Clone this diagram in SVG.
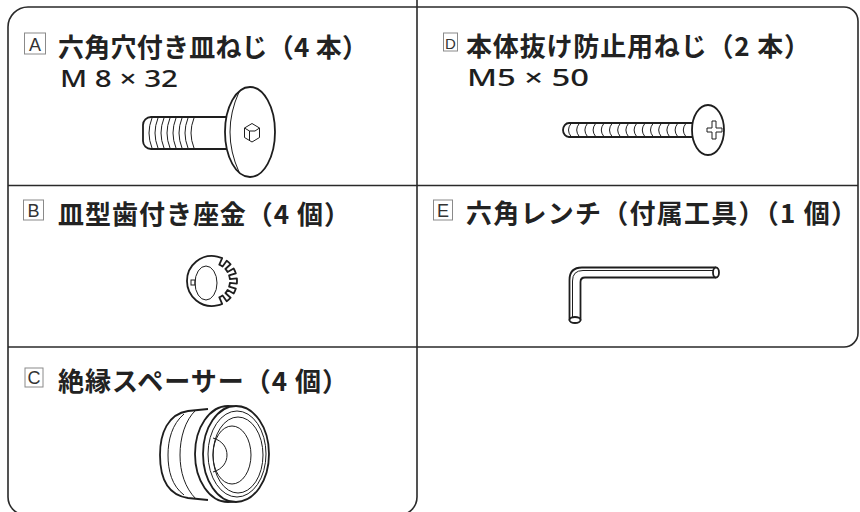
<svg xmlns="http://www.w3.org/2000/svg" width="860" height="512" viewBox="0 0 860 512">
<style>
.frame{fill:none;stroke:#2a2a2a;stroke-width:1.6}
.lbl{fill:#fff;stroke:#8a8a8a;stroke-width:1}
.lt{font-family:"Liberation Sans","Noto Sans",sans-serif;font-size:18px;fill:#333;text-anchor:middle}
.title{font-family:"Noto Sans CJK JP","Noto Sans",sans-serif;font-size:26px;font-weight:600;fill:#222}
.spec{font-family:"Noto Sans","Liberation Sans",sans-serif;font-size:24px;font-weight:500;fill:#1e1e1e}
.thick{fill:#fff;stroke:#1e1e1e;stroke-width:1.8;stroke-linejoin:round}
.thin{fill:none;stroke:#1e1e1e;stroke-width:1}
</style>
<rect width="860" height="512" fill="#fff"/>
<g id="frame">
<path class="frame" d="M8,27 A20,20 0 0 1 28,7 L844,7 A14,14 0 0 1 858,21 L858,333 A14,14 0 0 1 844,347 L417,347"/>
<path class="frame" d="M417,0 L417,497 A18,18 0 0 1 399,515 L26,515 A18,18 0 0 1 8,497 L8,27"/>
<line class="frame" x1="8" y1="185.5" x2="858" y2="185.5"/>
<line class="frame" x1="8" y1="347" x2="417" y2="347"/>
</g>
<g id="connectors"></g>
<g id="node-A">
<rect class="lbl" x="24.5" y="33" width="21" height="21"/>
<text class="lt" x="35" y="50.5">A</text>
<text class="title" x="58" y="57" textLength="310">六角穴付き皿ねじ（4 本）</text>
<text class="spec" x="60" y="87" textLength="118" lengthAdjust="spacingAndGlyphs">M 8 × 32</text>
<path class="thick" d="M228,117 L151,117 A8,8 0 0 0 143,125 L143,141 A8,8 0 0 0 151,149 L228,149"/>
<path class="thin" d="M152,118 Q146,133 152,148 M158,118 Q152,133 158,148 M164,118 Q158,133 164,148 M170,118 Q164,133 170,148 M176,118 Q170,133 176,148 M182,118 Q176,133 182,148 M188,118 Q182,133 188,148 M194,118 Q188,133 194,148"/>
<ellipse class="thick" cx="250" cy="132" rx="25" ry="45"/>
<path class="thin" d="M239,92 Q221,132 239,172"/>
<polygon class="thin" points="252,123.5 259.5,128 259.5,137.5 252,142 244.5,137.5 244.5,128"/>
<polyline class="thin" points="244.5,128 249.5,131 249.5,140"/>
<polyline class="thin" points="249.5,131 255,131 259.5,128"/>
</g>
<g id="node-D">
<rect class="lbl" x="443.5" y="33" width="14" height="18"/>
<text class="lt" x="450.5" y="48.5" style="font-size:15px">D</text>
<text class="title" x="466" y="56" textLength="344">本体抜け防止用ねじ（2 本）</text>
<text class="spec" x="467" y="86" textLength="122" lengthAdjust="spacingAndGlyphs">M5 × 50</text>
<path class="thick" d="M696,123 L569,123 A6,7 0 0 0 569,137 L696,137"/>
<path class="thin" d="M571,123.5 Q566,130 571,136.5 M579.2,123.5 Q574.2,130 579.2,136.5 M587.4,123.5 Q582.4,130 587.4,136.5 M595.6,123.5 Q590.6,130 595.6,136.5 M603.8,123.5 Q598.8,130 603.8,136.5 M612,123.5 Q607,130 612,136.5 M620.2,123.5 Q615.2,130 620.2,136.5 M628.4,123.5 Q623.4,130 628.4,136.5 M636.6,123.5 Q631.6,130 636.6,136.5 M644.8,123.5 Q639.8,130 644.8,136.5 M653,123.5 Q648,130 653,136.5 M661.2,123.5 Q656.2,130 661.2,136.5 M669.4,123.5 Q664.4,130 669.4,136.5 M677.6,123.5 Q672.6,130 677.6,136.5 M685.8,123.5 Q680.8,130 685.8,136.5"/>
<ellipse class="thick" cx="708" cy="130" rx="16" ry="25"/>
<path class="thin" d="M712,121 L716,121 L716,128 L722,128 L722,132 L716,132 L716,139 L712,139 L712,132 L707,132 L707,128 L712,128 Z"/>
</g>
<g id="node-B">
<rect class="lbl" x="23.5" y="200" width="20" height="20"/>
<text class="lt" x="33.5" y="216.5">B</text>
<text class="title" x="58" y="224" textLength="292">皿型歯付き座金（4 個）</text>
<path class="thick" d="M217.2,256.55 A25,25 0 0 1 222.17,258.16 L219.32,264.56 A18,18 0 0 1 222.58,266.44 L226.7,260.78 A25,25 0 0 1 230.58,264.27 L225.38,268.96 A18,18 0 0 1 227.59,272 L233.65,268.5 A25,25 0 0 1 235.78,273.28 L229.12,275.44 A18,18 0 0 1 229.9,279.12 L236.86,278.39 A25,25 0 0 1 236.86,283.61 L229.9,282.88 A18,18 0 0 1 229.12,286.56 L235.78,288.72 A25,25 0 0 1 233.65,293.5 L227.59,290 A18,18 0 0 1 225.38,293.04 L230.58,297.73 A25,25 0 0 1 226.7,301.22 L222.58,295.56 A18,18 0 0 1 219.32,297.44 L222.17,303.84 A25,25 0 0 1 217.2,305.45 A25,25 0 1 1 217.2,256.55 Z"/>
<ellipse class="thin" cx="206" cy="283" rx="11" ry="17"/>
<rect class="thin" x="191" y="280" width="4" height="5"/>
</g>
<g id="node-E">
<rect class="lbl" x="433.5" y="200" width="19" height="20"/>
<text class="lt" x="443" y="216.5">E</text>
<text class="title" x="466" y="223" textLength="391">六角レンチ（付属工具）（1 個）</text>
<path class="thick" d="M716,267.5 L582,267.5 Q569.5,267.5 569.5,280 L569.5,320 L580.5,320 L580.5,282 Q580.5,277.5 585,277.5 L716,277.5"/>
<path class="thin" d="M714,270.5 L583,270.5 Q572.5,270.5 572.5,281 L572.5,318"/>
<ellipse class="thick" cx="716" cy="272.5" rx="3" ry="5"/>
<ellipse class="thick" cx="575" cy="320" rx="5.5" ry="3"/>
</g>
<g id="node-C">
<rect class="lbl" x="25" y="368" width="18" height="19"/>
<text class="lt" x="34" y="384">C</text>
<text class="title" x="58" y="391" textLength="290">絶縁スペーサー（4 個）</text>
<path class="thick" d="M208,409 L188,411 C168,414 160,433 160,455 C160,478 168,495 188,498 L208,500"/>
<path class="thin" d="M184,414 C172,424 168,440 168,455 C168,471 172,486 184,495"/>
<path class="thin" d="M196,410 C185,420 180,438 180,455 C180,472 185,488 196,499"/>
<ellipse class="thick" cx="228" cy="454" rx="33" ry="48"/>
<ellipse class="thick" cx="236" cy="454" rx="33" ry="48"/>
<ellipse class="thin" cx="237" cy="454" rx="29" ry="43"/>
<ellipse class="thin" cx="238" cy="455" rx="25" ry="38"/>
<ellipse class="thin" cx="232" cy="455" rx="19" ry="29"/>
<path class="thin" d="M213,438 C223,441 227,448 227,455 C227,462 223,469 213,472"/>
</g>
</svg>
